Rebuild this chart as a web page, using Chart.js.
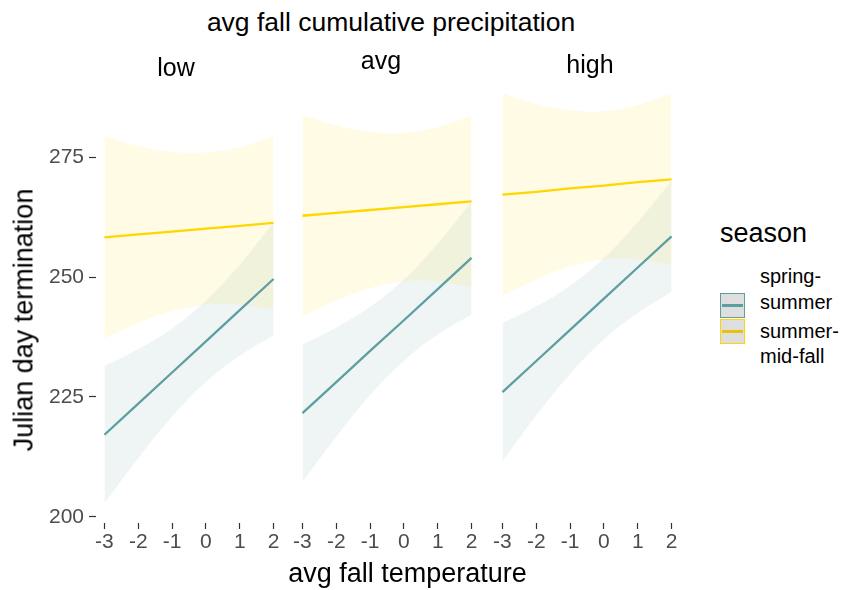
<!DOCTYPE html>
<html>
<head>
<meta charset="utf-8">
<script src="https://cdn.jsdelivr.net/npm/chart.js@4.4.1/dist/chart.umd.min.js"></script>
<style>
  html, body { margin: 0; padding: 0; background: #fff; }
  #wrap { position: relative; width: 846px; height: 590px; overflow: hidden;
          font-family: "Liberation Sans", Arial, sans-serif; color: #000; }
  #wrap canvas { position: absolute; }
  .txt { position: absolute; white-space: nowrap; }
  .key { position: absolute; width: 25px; height: 25px; box-sizing: border-box; background: #dedede; }
  .key span { position: absolute; left: 1px; right: 1px; top: 10px; height: 3px; }
</style>
</head>
<body>
<div id="wrap">
  <canvas id="panel0" width="292" height="521" style="left:0px;top:42px"></canvas>
  <canvas id="panel1" width="206" height="521" style="left:284px;top:42px"></canvas>
  <canvas id="panel2" width="206" height="521" style="left:484px;top:42px"></canvas>

  <div class="txt" style="left:391px;top:9px;font-size:26.5px;line-height:26.5px;transform:translateX(-50%)">avg fall cumulative precipitation</div>
  <div class="txt" id="strip0" style="left:176px;top:54.8px;font-size:25px;line-height:25px;transform:translateX(-50%)"></div>
  <div class="txt" id="strip1" style="left:381px;top:48.3px;font-size:25px;line-height:25px;transform:translateX(-50%)"></div>
  <div class="txt" id="strip2" style="left:590px;top:51.5px;font-size:25px;line-height:25px;transform:translateX(-50%)"></div>

  <div class="txt" style="left:24px;top:320px;font-size:27px;line-height:27px;transform:translate(-50%,-50%) rotate(-90deg)">Julian day termination</div>
  <div class="txt" style="left:407.5px;top:560px;font-size:27px;line-height:27px;transform:translateX(-50%)">avg fall temperature</div>

  <!-- legend -->
  <div class="txt" style="left:720px;top:219.5px;font-size:27px;line-height:27px">season</div>
  <div class="key" style="left:720px;top:293px;border:1.5px solid #5f9ea0"><span style="background:#5f9ea0"></span></div>
  <div class="key" style="left:720px;top:319px;border:1.5px solid #ffd700"><span style="background:#e8c20a"></span></div>
  <div class="txt" style="left:760px;top:264.3px;font-size:20px;line-height:25.5px">spring-<br>summer</div>
  <div class="txt" style="left:760px;top:318.8px;font-size:20px;line-height:25.5px">summer-<br>mid-fall</div>
</div>

<script>
// facet levels and axis ticks
const precipLevels = ["low", "avg", "high"];
const tempTicks = [-3, -2, -1, 0, 1, 2];
const yTicks = [200, 225, 250, 275];

// fitted lines + confidence band, one row per precipitation level, values at tempTicks
const springFit   = [[217.1, 223.6, 230.1, 236.6, 243.1, 249.6],
                     [221.6, 228.1, 234.6, 241.0, 247.5, 254.0],
                     [226.0, 232.5, 239.0, 245.5, 252.0, 258.5]];
const springUpper = [[231.4, 235.0, 239.3, 245.1, 252.6, 261.4],
                     [235.9, 239.5, 243.8, 249.5, 257.0, 265.8],
                     [240.4, 243.9, 248.2, 254.0, 261.5, 270.1]];
const springLower = [[202.8, 212.2, 220.9, 228.1, 233.6, 237.8],
                     [207.3, 216.7, 225.4, 232.5, 238.0, 242.2],
                     [211.6, 221.1, 229.8, 237.0, 242.5, 246.9]];

const summerFit   = [[258.3, 258.9, 259.5, 260.1, 260.7, 261.3],
                     [262.8, 263.4, 264.0, 264.6, 265.2, 265.8],
                     [267.2, 267.8, 268.5, 269.1, 269.8, 270.4]];
const summerUpper = [[279.4, 277.4, 276.1, 276.0, 277.1, 279.4],
                     [283.8, 281.7, 280.3, 280.1, 281.3, 283.7],
                     [288.3, 286.1, 284.8, 284.6, 285.9, 288.3]];
const summerLower = [[237.2, 240.4, 242.9, 244.2, 244.3, 243.2],
                     [241.8, 245.1, 247.7, 249.1, 249.1, 247.9],
                     [246.1, 249.5, 252.2, 253.6, 253.7, 252.5]];

const springColor = "#5f9ea0";
const summerColor = "#ffd700";
const springBand = "rgba(95, 158, 160, 0.1)";
const summerBand = "rgba(255, 215, 0, 0.1)";

Chart.defaults.font.family = '"Liberation Sans", Arial, sans-serif';

const toPoints = vals => tempTicks.map((x, i) => ({ x: x, y: vals[i] }));

function linea(vals, color) {
  return { data: toPoints(vals), borderColor: color, borderWidth: 2.3,
           pointRadius: 0, fill: false, tension: 0 };
}
function banda(vals, color, fill) {
  return { data: toPoints(vals), borderColor: "transparent", borderWidth: 0,
           backgroundColor: color, pointRadius: 0, fill: fill, tension: 0.4 };
}

function renderPanel(k) {
  const showY = k === 0;
  document.getElementById("strip" + k).textContent = precipLevels[k];

  new Chart(document.getElementById("panel" + k), {
    type: "line",
    data: {
      datasets: [
        linea(springFit[k], springColor),
        linea(summerFit[k], summerColor),
        banda(summerUpper[k], summerBand, "+1"),
        banda(summerLower[k], summerBand, false),
        banda(springUpper[k], springBand, "+1"),
        banda(springLower[k], springBand, false)
      ]
    },
    options: {
      responsive: false,
      animation: false,
      // 30px arriba: deja sitio a la etiqueta superior del eje y sin mover el área
      layout: { padding: { top: 30, right: 10, left: showY ? 0 : 10, bottom: 0 } },
      plugins: { legend: { display: false }, tooltip: { enabled: false } },
      scales: {
        x: {
          type: "linear",
          min: -3.25,
          max: 2.25,
          afterBuildTicks: s => { s.ticks = tempTicks.map(v => ({ value: v })); },
          afterFit: s => { s.height = 40; },
          ticks: { autoSkip: false, maxRotation: 0, padding: 1, color: "#4d4d4d",
                   font: { size: 21 } },
          grid: { drawOnChartArea: false, tickLength: 6, tickColor: "#333", tickWidth: 1.2 },
          border: { display: false }
        },
        y: {
          display: showY,
          min: 198.69,
          max: 292.8,
          afterBuildTicks: s => { s.ticks = yTicks.map(v => ({ value: v })); },
          afterFit: s => { s.width = showY ? 96 : 0; },
          ticks: { padding: 5, color: "#4d4d4d", font: { size: 21 } },
          grid: { drawOnChartArea: false, tickLength: 7, tickColor: "#333", tickWidth: 1.2 },
          border: { display: false }
        }
      }
    }
  });
}

precipLevels.forEach((nivel, k) => renderPanel(k));
</script>
</body>
</html>
